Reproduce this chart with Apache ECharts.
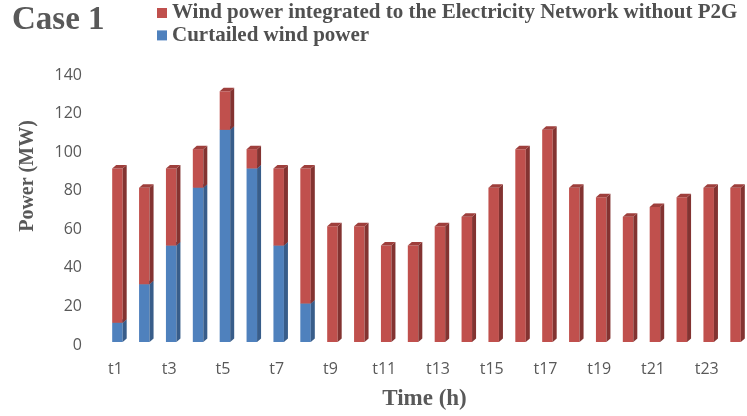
<!DOCTYPE html>
<html>
<head>
<meta charset="utf-8">
<script src="https://cdn.jsdelivr.net/npm/echarts@6/dist/echarts.min.js"></script>
<style>html,body{margin:0;padding:0;background:#fff;}#c{width:747px;height:416px;}</style>
</head>
<body>
<div id="c"></div>
<script>
const hours = ['t1','t2','t3','t4','t5','t6','t7','t8','t9','t10','t11','t12','t13','t14','t15','t16','t17','t18','t19','t20','t21','t22','t23','t24'];
const curtailed = [10,30,50,80,110,90,50,20,0,0,0,0,0,0,0,0,0,0,0,0,0,0,0,0];
const integrated = [80,50,40,20,20,10,40,70,60,60,50,50,60,65,80,100,110,80,75,65,70,75,80,80];
const yTicks = [0,20,40,60,80,100,120,140];
const nameIntegrated = 'Wind power integrated to the Electricity Network without P2G';
const nameCurtailed = 'Curtailed wind power';

const chart = echarts.init(document.getElementById('c'), null, {renderer:'canvas'});

function makeRender(front, side, top) {
  return function (params, api) {
    const idx = api.value(0), lo = api.value(1), hi = api.value(2);
    if (hi <= lo) return null;
    const pLo = api.coord([idx, lo]);
    const pHi = api.coord([idx, hi]);
    const w = 10.5, d = 4, h = 3.5, dx = 2, dy = -3;
    const x0 = pLo[0] - w / 2 + dx, x1 = x0 + w;
    const yB = pLo[1] + dy, yT = pHi[1] + dy;
    return {
      type: 'group',
      children: [
        {type:'rect', shape:{x:x0, y:yT, width:w, height:yB - yT}, style:{fill:front}},
        {type:'polygon', shape:{points:[[x1,yB],[x1+d,yB-h],[x1+d,yT-h],[x1,yT]]}, style:{fill:side}},
        {type:'polygon', shape:{points:[[x0,yT],[x0+d,yT-h],[x1+d,yT-h],[x1,yT]]}, style:{fill:top}}
      ]
    };
  };
}

const blueData = hours.map((h, i) => [i, 0, curtailed[i]]);
const redData = hours.map((h, i) => [i, curtailed[i], curtailed[i] + integrated[i]]);

chart.setOption({
  animation: false,
  backgroundColor: '#ffffff',
  title: {
    text: 'Case 1', left: 7, top: -1,
    textStyle: {fontFamily:'Liberation Serif', fontWeight:'bold', fontSize:33, color:'#595959'}
  },
  legend: {
    data: [nameIntegrated, nameCurtailed],
    orient: 'vertical', left: 157, top: 2, padding: 0,
    itemWidth: 10, itemHeight: 10, itemGap: 0.4,
    icon: 'rect',
    textStyle: {fontFamily:'Liberation Serif', fontWeight:'bold', fontSize:21, color:'#505050', lineHeight:22}
  },
  grid: {left: 102, right: -12, top: 75, bottom: 71, containLabel: false},
  xAxis: {
    type: 'category', data: hours,
    axisLine: {show:false}, axisTick: {show:false},
    axisLabel: {interval: 1, margin: 16, fontFamily:'Open Sans', fontSize:16, color:'#595959'},
    name: 'Time (h)', nameLocation: 'middle', nameGap: 43,
    nameTextStyle: {fontFamily:'Liberation Serif', fontWeight:'bold', fontSize:23, color:'#595959'}
  },
  yAxis: {
    type: 'value', min: yTicks[0], max: yTicks[yTicks.length-1], interval: 20,
    axisLine: {show:false}, axisTick: {show:false}, splitLine: {show:false},
    axisLabel: {margin: 20, fontFamily:'Open Sans', fontSize:16, color:'#595959'}
  },
  graphic: [{
    type: 'text', x: 28, y: 176, rotation: Math.PI / 2,
    style: {text: 'Power (MW)', textAlign: 'center', textVerticalAlign: 'middle',
      font: 'bold 20px "Liberation Serif"', fill: '#595959'}
  }],
  series: [
    {name: nameCurtailed, type: 'custom', data: blueData, encode: {x: 0, y: [1, 2]},
      itemStyle: {color: '#4F81BD'}, renderItem: makeRender('#4F81BD', '#385D8A', '#3F6796')},
    {name: nameIntegrated, type: 'custom', data: redData, encode: {x: 0, y: [1, 2]},
      itemStyle: {color: '#C0504D'}, renderItem: makeRender('#C0504D', '#833331', '#9E3F3C')}
  ]
});
</script>
</body>
</html>
